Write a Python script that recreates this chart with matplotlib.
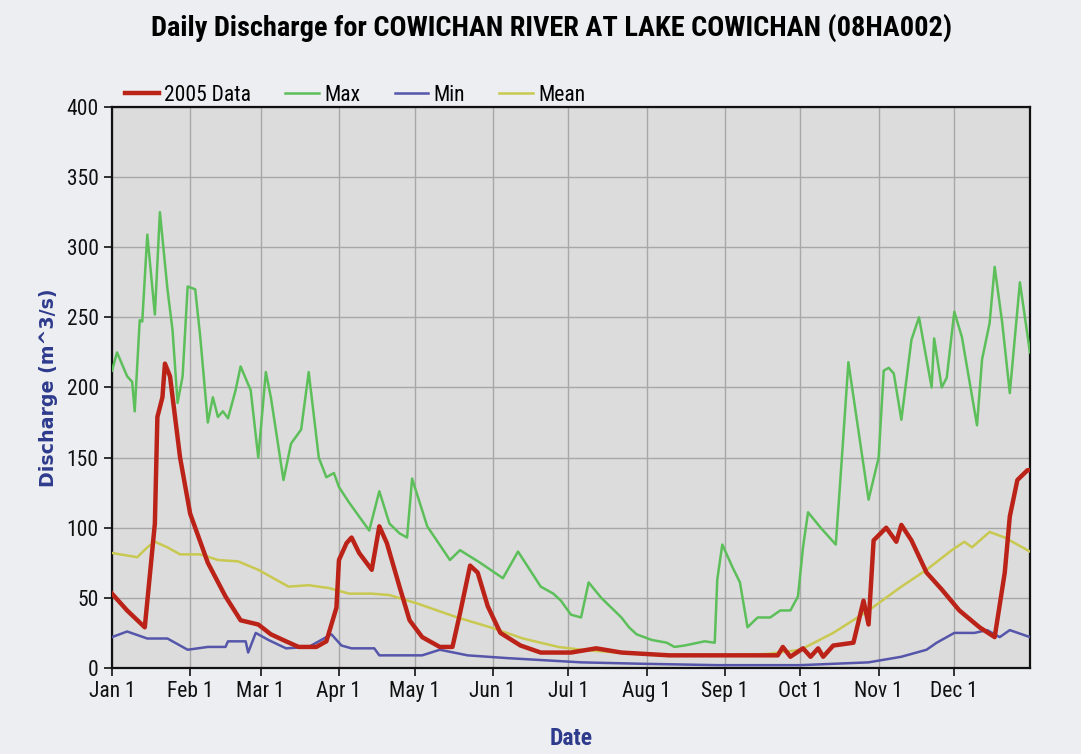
import matplotlib
matplotlib.use("Agg")
import matplotlib.pyplot as plt
from matplotlib import font_manager
import numpy as np

# day of year (0 = Jan 1) and discharge in m^3/s
data_days = [0, 6, 13, 17, 18, 20, 21, 23, 27, 31, 38, 45, 51, 58, 63, 69, 74, 81, 85, 89, 90, 93,
             95, 98, 103, 106, 109, 114, 118, 123, 130, 135, 138, 142, 145, 149, 154, 162, 170, 182,
             192, 202, 221, 248, 264, 266, 269, 274, 277, 280, 282, 286, 294, 298, 300, 302, 307,
             311, 313, 317, 323, 329, 336, 344, 350, 354, 356, 359, 363, 364]
data_vals = [53, 41, 29, 103, 179, 193, 217, 208, 150, 110, 75, 51, 34, 31, 24, 19, 15, 15, 19, 43, 77, 89,
             93, 82, 70, 101, 89, 58, 34, 22, 15, 15, 39, 73, 68, 44, 25, 16, 11, 11,
             14, 11, 9, 9, 9, 15, 8, 14, 8, 14, 8, 16, 18, 48, 31, 91, 100,
             90, 102, 91, 68, 56, 41, 29, 22, 68, 108, 134, 141, 141]

max_days = [0, 2, 6, 8, 9, 11, 12, 14, 17, 19, 22, 24, 26, 28, 30, 33, 35, 38, 40, 42, 44, 46, 49, 51,
            55, 58, 61, 63, 68, 71, 75, 78, 82, 85, 88, 90, 94, 102, 106, 110, 114, 117, 119, 125, 134,
            138, 146, 155, 161, 170, 175, 178, 182, 186, 189, 194, 202, 205, 208, 214, 220, 223, 227,
            235, 239, 240, 242, 246, 249, 252, 256, 261, 265, 269, 272, 274, 276, 281, 287, 289, 292,
            300, 304, 306, 308, 310, 313, 317, 320, 325, 326, 329, 331, 334, 337, 343, 345, 348, 350,
            353, 356, 360, 364]
max_vals = [212, 225, 208, 204, 183, 248, 247, 309, 252, 325, 270, 241, 189, 208, 272, 270, 236, 175, 193,
            179, 183, 178, 198, 215, 198, 150, 211, 193, 134, 160, 170, 211, 150, 136, 139, 129, 118, 98,
            126, 103, 96, 93, 135, 101, 77, 84, 75, 64, 83, 58, 53, 48, 38, 36, 61, 50, 36, 29, 24, 20,
            18, 15, 16, 19, 18, 63, 88, 72, 61, 29, 36, 36, 41, 41, 51, 86, 111, 100, 88, 139, 218,
            120, 150, 212, 214, 210, 177, 234, 250, 200, 235, 200, 207, 254, 236, 173, 220, 246, 286,
            246, 196, 275, 225]

min_days = [0, 6, 14, 22, 30, 38, 45, 46, 53, 54, 57, 62, 69, 78, 87, 91, 95, 104, 106, 123, 130, 141,
            157, 186, 210, 240, 273, 300, 313, 323, 327, 334, 342, 347, 352, 356, 364]
min_vals = [22, 26, 21, 21, 13, 15, 15, 19, 19, 11, 25, 20, 14, 15, 24, 16, 14, 14, 9, 9, 13, 9,
            7, 4, 3, 2, 2, 4, 8, 13, 18, 25, 25, 27, 22, 27, 22]

mean_days = [0, 10, 14, 17, 22, 27, 35, 42, 50, 58, 65, 70, 78, 86, 94, 103, 110, 121, 137, 150, 163,
             177, 186, 200, 220, 240, 260, 273, 286, 300, 313, 323, 333, 338, 341, 348, 354, 364]
mean_vals = [82, 79, 86, 90, 86, 81, 81, 77, 76, 70, 63, 58, 59, 57, 53, 53, 52, 46, 36, 29, 21,
             15, 13, 11, 9, 9, 10, 13, 25, 41, 58, 70, 84, 90, 86, 97, 93, 83]

month_starts = [0, 31, 59, 90, 120, 151, 181, 212, 243, 273, 304, 334]
month_labels = ["Jan 1", "Feb 1", "Mar 1", "Apr 1", "May 1", "Jun 1",
                "Jul 1", "Aug 1", "Sep 1", "Oct 1", "Nov 1", "Dec 1"]

# narrow fonts if the system has one
names = {f.name for f in font_manager.fontManager.ttflist}
narrow = [n for n in ["Liberation Sans Narrow", "Arial Narrow", "Roboto Condensed", "Roboto", "DejaVu Sans"]
          if n in names]
plt.rcParams["font.family"] = narrow
plt.rcParams["font.stretch"] = "condensed"

fig = plt.figure(figsize=(10.81, 7.54), dpi=100, facecolor="#eceef1")
ax = fig.add_axes([0.1036, 0.1141, 0.8492, 0.7440])
ax.set_facecolor("#dcdcdc")

ax.plot(data_days, data_vals, color="#bb2218", linewidth=3.2, label="2005 Data", zorder=5)
ax.plot(max_days, max_vals, color="#5cbf5a", linewidth=1.8, label="Max", zorder=4)
ax.plot(min_days, min_vals, color="#5556aa", linewidth=1.8, label="Min", zorder=4)
ax.plot(mean_days, mean_vals, color="#c9c850", linewidth=1.8, label="Mean", zorder=3)

ax.set_xlim(0, 364)
ax.set_ylim(0, 400)
ax.set_yticks(np.arange(0, 401, 50))
ax.set_xticks(month_starts)
ax.set_xticklabels(month_labels)
ax.tick_params(axis="both", labelsize=15.5, length=6, width=1.2, direction="out", colors="#111111")
ax.grid(True, color="#a8a8a8", linewidth=1.0)
ax.set_axisbelow(True)
for side in ax.spines.values():
    side.set_linewidth(1.6)
    side.set_color("#111111")

ax.set_xlabel("Date", fontsize=17, fontweight="bold", color="#2e3a8c", labelpad=18)
ax.set_ylabel("Discharge (m^3/s)", fontsize=13.7, fontweight="bold", color="#2e3a8c",
              family="DejaVu Sans", stretch="normal", labelpad=6)

fig.text(0.51, 0.963, "Daily Discharge for COWICHAN RIVER AT LAKE COWICHAN (08HA002)",
         fontsize=20.4, fontweight="bold", ha="center", va="center")

ax.legend(loc="center left", bbox_to_anchor=(0.012, 1.021), ncol=4, frameon=False,
          fontsize=15.5, handlelength=1.55, handletextpad=0.25, columnspacing=1.6,
          borderaxespad=0, borderpad=0.1)

fig.savefig("out.png", dpi=100, facecolor=fig.get_facecolor())
